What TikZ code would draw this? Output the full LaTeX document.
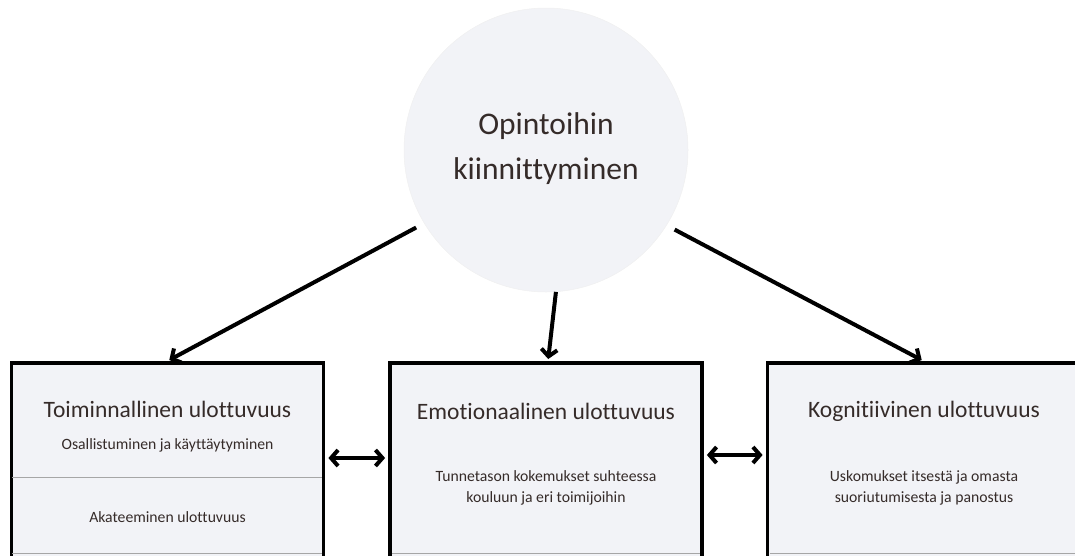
\documentclass[tikz,border=0pt]{standalone}
\usepackage{fontspec}
\setmainfont{Carlito}[Ligatures={NoCommon}]
\usetikzlibrary{arrows.meta}
\definecolor{boxfill}{HTML}{F2F3F7}
\definecolor{txt}{HTML}{352B29}
\tikzset{
  dimbox/.style={draw=black, line width=3.8pt, fill=boxfill, minimum width=312pt, minimum height=300pt, anchor=north, inner sep=0pt},
  titletext/.style={text=txt, font=\fontsize{23.5}{28}\selectfont, inner sep=0pt},
  subtext/.style={text=txt, font=\fontsize{15.7}{21}\selectfont, inner sep=0pt, align=center},
  arr/.style={line width=4pt, -{Straight Barb[length=7pt,width=16pt]}},
  darr/.style={line width=4pt, {Straight Barb[length=7pt,width=16pt]}-{Straight Barb[length=7pt,width=16pt]}}
}
\begin{document}
\begin{tikzpicture}[x=1pt,y=-1pt]
\useasboundingbox (0,0) rectangle (1075,555);
\begin{scope}
\clip (0,0) rectangle (1075,555);
\node[dimbox] (tl) at (167.5,361) {};
\node[dimbox] (em) at (546,361) {};
\node[dimbox] (ko) at (923.5,361) {};
\draw[gray!70, line width=0.8pt] (12,477) -- (322,477);
\draw[gray!70, line width=0.8pt] (12,553) -- (322,553);
\draw[gray!70, line width=0.8pt] (392,553) -- (700,553);
\draw[gray!70, line width=0.8pt] (770,553) -- (1075,553);
\end{scope}
\node[circle, fill=boxfill, draw=gray!12, line width=0.5pt, minimum size=284pt, inner sep=0pt] (circ) at (546,150) {};
\node[text=txt, font=\fontsize{31.5}{45}\selectfont, align=center, inner sep=0pt] (ctext) at (546,149) {Opintoihin\\kiinnittyminen};
\node[titletext] (tlt) at (167.5,409) {Toiminnallinen ulottuvuus};
\node[subtext] (tls) at (167.5,445) {Osallistuminen ja käyttäytyminen};
\node[subtext] (tla) at (167.5,517) {Akateeminen ulottuvuus};
\node[titletext] (emt) at (546,411) {Emotionaalinen ulottuvuus};
\node[subtext] (ems) at (546,487.5) {Tunnetason kokemukset suhteessa\\kouluun ja eri toimijoihin};
\node[titletext] (kot) at (924,411) {Kognitiivinen ulottuvuus};
\node[subtext] (kos) at (924,487.5) {Uskomukset itsestä ja omasta\\suoriutumisesta ja panostus};
\coordinate (ya) at (0,458);
\coordinate (yb) at (0,455);
\draw[arr, shorten <=9pt, shorten >=2pt] (circ.211.8) -- (tl.north);
\draw[arr, shorten >=2pt] (circ.274) -- ([xshift=2pt]em.north);
\draw[arr, shorten <=9pt, shorten >=2pt] (circ.328.2) -- (ko.north);
\draw[darr, shorten <=3pt, shorten >=3pt] (tl.east |- ya) -- (em.west |- ya);
\draw[darr, shorten <=3pt, shorten >=3pt] (em.east |- yb) -- (ko.west |- yb);
\end{tikzpicture}
\end{document}
